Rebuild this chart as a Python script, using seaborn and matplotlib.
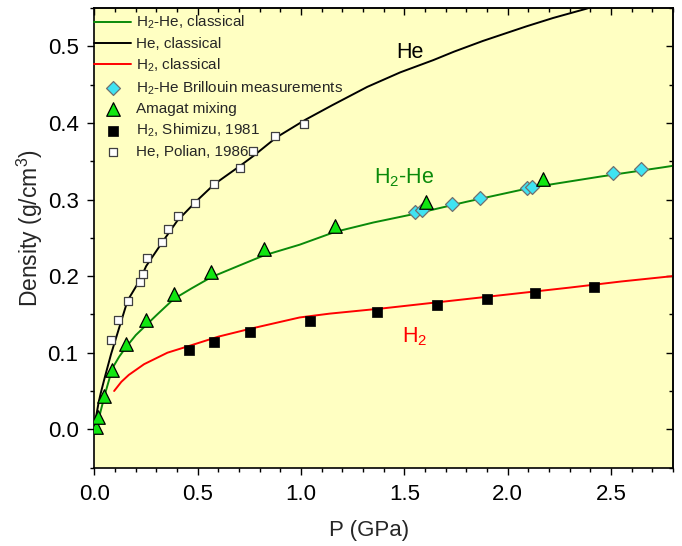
import numpy as np
import pandas as pd
import matplotlib
matplotlib.use("Agg")
import matplotlib.pyplot as plt
from matplotlib.ticker import MultipleLocator, NullFormatter
import seaborn as sns

# ---------------- data ----------------
# classical model curves
he_cl_p = [0.0, 0.01, 0.02, 0.03, 0.05, 0.08, 0.12, 0.16, 0.22, 0.25, 0.33, 0.40, 0.49,
           0.58, 0.70, 0.77, 0.88, 1.02, 1.15, 1.32, 1.48, 1.64, 1.74, 1.88, 2.09, 2.22,
           2.38, 2.45]
he_cl_rho = [0.003, 0.020, 0.035, 0.047, 0.068, 0.098, 0.133, 0.168, 0.195, 0.213, 0.245,
             0.272, 0.297, 0.320, 0.343, 0.357, 0.381, 0.404, 0.423, 0.447, 0.466, 0.482,
             0.493, 0.507, 0.526, 0.537, 0.549, 0.555]

mix_cl_p = [0.01, 0.03, 0.055, 0.087, 0.12, 0.152, 0.20, 0.25, 0.30, 0.383, 0.47, 0.565,
            0.70, 0.82, 0.993, 1.164, 1.35, 1.558, 1.80, 2.123, 2.45, 2.752, 2.8]
mix_cl_rho = [0.000, 0.024, 0.050, 0.080, 0.095, 0.107, 0.123, 0.136, 0.149, 0.170, 0.184,
              0.1986, 0.2137, 0.227, 0.241, 0.2577, 0.270, 0.2817, 0.297, 0.316, 0.330,
              0.342, 0.344]

h2_cl_p = [0.095, 0.13, 0.166, 0.24, 0.353, 0.46, 0.60, 0.75, 0.993, 1.138, 1.40, 1.70,
           2.00, 2.30, 2.55, 2.80]
h2_cl_rho = [0.050, 0.062, 0.071, 0.085, 0.100, 0.109, 0.121, 0.131, 0.146, 0.151, 0.158,
             0.167, 0.176, 0.185, 0.193, 0.200]

# measurements
brill_p = [1.551, 1.584, 1.729, 1.866, 2.095, 2.119, 2.512, 2.646]
brill_rho = [0.284, 0.286, 0.294, 0.302, 0.3145, 0.316, 0.335, 0.3395]

amagat_p = [0.005, 0.016, 0.044, 0.086, 0.152, 0.249, 0.383, 0.565, 0.820, 1.164, 1.606, 2.173]
amagat_rho = [0.0035, 0.016, 0.043, 0.078, 0.111, 0.143, 0.176, 0.205, 0.235, 0.265, 0.297, 0.327]

shimizu_p = [0.459, 0.580, 0.754, 1.045, 1.369, 1.659, 1.898, 2.131, 2.420]
shimizu_rho = [0.104, 0.1146, 0.1264, 0.1413, 0.1527, 0.1618, 0.1697, 0.1776, 0.186]

polian_p = [0.082, 0.115, 0.161, 0.219, 0.234, 0.252, 0.329, 0.358, 0.405, 0.486, 0.578,
            0.702, 0.765, 0.875, 1.015]
polian_rho = [0.116, 0.143, 0.168, 0.192, 0.2025, 0.224, 0.244, 0.261, 0.278, 0.295, 0.320,
              0.341, 0.363, 0.383, 0.398]

x_ticks = [0.0, 0.5, 1.0, 1.5, 2.0, 2.5]
y_ticks = [0.0, 0.1, 0.2, 0.3, 0.4, 0.5]

# ---------------- style ----------------
sns.set_theme(style="ticks")
plt.rcParams["font.family"] = ["Liberation Sans", "DejaVu Sans"]
plt.rcParams["mathtext.fontset"] = "custom"
plt.rcParams["mathtext.rm"] = "Liberation Sans"
plt.rcParams["mathtext.it"] = "Liberation Sans:italic"
plt.rcParams["mathtext.bf"] = "Liberation Sans:bold"

GREEN_LINE = "#0A8A0A"
BG = "#FFFFC2"

fig = plt.figure(figsize=(6.82, 5.46), dpi=100)
ax = fig.add_axes([94.5 / 682, 1 - 467.6 / 546, (673 - 94.5) / 682, (467.6 - 8) / 546])
ax.set_facecolor(BG)

df_mix = pd.DataFrame({"P": mix_cl_p, "rho": mix_cl_rho})
df_he = pd.DataFrame({"P": he_cl_p, "rho": he_cl_rho})
df_h2 = pd.DataFrame({"P": h2_cl_p, "rho": h2_cl_rho})

LW = 1.4
sns.lineplot(data=df_mix, x="P", y="rho", ax=ax, color=GREEN_LINE, lw=LW,
             sort=False, estimator=None, label="H$_2$-He, classical")
sns.lineplot(data=df_he, x="P", y="rho", ax=ax, color="black", lw=LW,
             sort=False, estimator=None, label="He, classical")
sns.lineplot(data=df_h2, x="P", y="rho", ax=ax, color="#FF0000", lw=LW,
             sort=False, estimator=None, label="H$_2$, classical")

sns.scatterplot(x=brill_p, y=brill_rho, ax=ax, marker="D", s=50, color="#3FE3F2",
                edgecolor="#707070", linewidth=0.9, zorder=4,
                label="H$_2$-He Brillouin measurements")
sns.scatterplot(x=amagat_p, y=amagat_rho, ax=ax, marker="^", s=95, color="#11E611",
                edgecolor="black", linewidth=0.9, zorder=4, label="Amagat mixing")
sns.scatterplot(x=shimizu_p, y=shimizu_rho, ax=ax, marker="s", s=50, color="black",
                edgecolor="black", linewidth=0.5, zorder=4, label="H$_2$, Shimizu, 1981")
sns.scatterplot(x=polian_p, y=polian_rho, ax=ax, marker="s", s=40, color="white",
                edgecolor="#404040", linewidth=0.9, zorder=4, label="He, Polian, 1986")

# annotations
ax.text(1.525, 0.492, "He", fontsize=15.5, color="black", ha="center", va="center")
ax.text(1.50, 0.329, "H$_2$-He", fontsize=15.5, color=GREEN_LINE, ha="center", va="center")
ax.text(1.55, 0.121, "H$_2$", fontsize=15.5, color="#FF0000", ha="center", va="center")

# axes
ax.set_xlim(0, 2.8)
ax.set_ylim(-0.05, 0.55)
ax.set_xticks(x_ticks)
ax.set_yticks(y_ticks)
ax.set_xticklabels([f"{v:.1f}" for v in x_ticks])
ax.set_yticklabels([f"{v:.1f}" for v in y_ticks])
ax.xaxis.set_minor_locator(MultipleLocator(0.1))
ax.yaxis.set_minor_locator(MultipleLocator(0.05))
ax.tick_params(which="major", direction="out", length=5, width=1.0, labelsize=16, pad=6.5,
               color="black", labelcolor="black")
ax.tick_params(which="minor", direction="out", length=2.8, width=1.0, color="black")
ax.set_xlabel("P (GPa)", fontsize=16)
ax.set_ylabel("Density (g/cm$^3$)", fontsize=16.5)
ax.xaxis.set_label_coords(0.474, -0.113)
ax.yaxis.set_label_coords(-0.085, 0.52)

for sp in ax.spines.values():
    sp.set_visible(True)
    sp.set_linewidth(1.2)
    sp.set_color("black")

secx = ax.secondary_xaxis("top")
secx.set_xticks(x_ticks)
secx.xaxis.set_minor_locator(MultipleLocator(0.1))
secx.xaxis.set_major_formatter(NullFormatter())
secx.tick_params(which="major", direction="in", length=5, width=1.0, color="black")
secx.tick_params(which="minor", direction="in", length=2.8, width=1.0, color="black")
secx.spines["top"].set_linewidth(1.2)

secy = ax.secondary_yaxis("right")
secy.set_yticks(y_ticks)
secy.yaxis.set_minor_locator(MultipleLocator(0.05))
secy.yaxis.set_major_formatter(NullFormatter())
secy.tick_params(which="major", direction="in", length=5, width=1.0, color="black")
secy.tick_params(which="minor", direction="in", length=2.8, width=1.0, color="black")
secy.spines["right"].set_linewidth(1.2)

handles, labels = ax.get_legend_handles_labels()
ax.legend(handles, labels, loc="upper left", bbox_to_anchor=(0.0, 1 - 6 / 460),
          frameon=False, fontsize=11, borderaxespad=0.0, borderpad=0.0,
          handlelength=2.4, handletextpad=0.33, labelspacing=0.36)

fig.savefig("out.png", dpi=100, facecolor="white")
